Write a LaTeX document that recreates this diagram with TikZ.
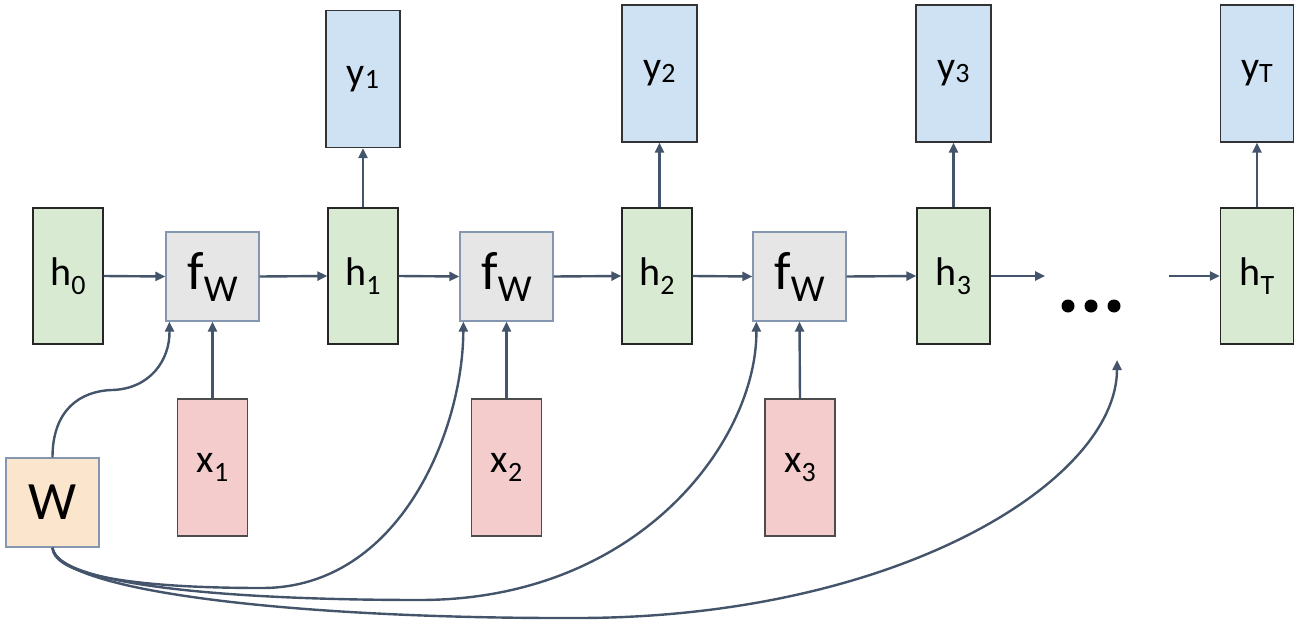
\documentclass[tikz,border=0pt]{standalone}
\usepackage{fontspec}
\setmainfont{Carlito}
\usetikzlibrary{arrows.meta}
\definecolor{arr}{HTML}{44546A}
\definecolor{hgreen}{HTML}{D9EAD3}
\definecolor{fgray}{HTML}{E6E6E6}
\definecolor{fborder}{HTML}{8496B0}
\definecolor{yblue}{HTML}{CFE2F3}
\definecolor{xred}{HTML}{F4CCCC}
\definecolor{worange}{HTML}{FCE5CD}
\newcommand{\hsub}[1]{{\fontsize{40}{40}\selectfont h}\raisebox{-9pt}{\fontsize{28}{28}\selectfont #1}}
\newcommand{\ysub}[1]{{\fontsize{40}{40}\selectfont y}\raisebox{-3pt}{\fontsize{28}{28}\selectfont #1}}
\newcommand{\xsub}[1]{{\fontsize{40}{40}\selectfont x}\raisebox{-9pt}{\fontsize{28}{28}\selectfont #1}}
\newcommand{\fsub}{{\fontsize{54}{54}\selectfont f}\raisebox{-12pt}{\fontsize{38}{38}\selectfont W}}
\begin{document}
\begin{tikzpicture}[x=1pt,y=-1pt,
  box/.style={draw, line width=1.3pt, inner sep=0pt, rectangle},
  hbox/.style={box, draw=black!85, fill=hgreen, minimum width=70pt, minimum height=136pt},
  ybox/.style={box, draw=black!80, fill=yblue, minimum width=75pt, minimum height=137pt},
  xbox/.style={box, draw=black!70, fill=xred, minimum width=70pt, minimum height=137pt},
  fbox/.style={box, draw=fborder, fill=fgray, minimum width=93pt, minimum height=89pt},
  wbox/.style={box, draw=fborder, fill=worange, minimum width=93pt, minimum height=89pt},
  conn/.style={draw=arr, line width=2.4pt, -{Triangle[length=10pt,width=9pt]}},
]
\useasboundingbox (0,0) rectangle (1301,626);
% nodes
\node[hbox] (h0) at (68,276) {\hsub{0}};
\node[fbox] (f1) at (212.5,276.5) {\fsub};
\node[hbox] (h1) at (363,276) {\hsub{1}};
\node[ybox, minimum width=74pt] (y1) at (363,79) {\ysub{1}};
\node[fbox] (f2) at (506.5,276.5) {\fsub};
\node[hbox] (h2) at (657,276) {\hsub{2}};
\node[ybox] (y2) at (659.5,73.5) {\ysub{2}};
\node[fbox] (f3) at (799.5,276.5) {\fsub};
\node[hbox, minimum width=73pt] (h3) at (953.5,276) {\hsub{3}};
\node[ybox] (y3) at (953.5,73.5) {\ysub{3}};
\node[hbox, minimum width=73pt] (hT) at (1257,276) {\hsub{T}};
\node[ybox, minimum width=73pt] (yT) at (1257,73.5) {\ysub{T}};
\node[xbox] (x1) at (212.5,467.5) {\xsub{1}};
\node[xbox] (x2) at (506.5,467.5) {\xsub{2}};
\node[xbox] (x3) at (800,467.5) {\xsub{3}};
\node[wbox] (W) at (52.5,502.5) {\fontsize{54}{54}\selectfont W};
% dots
\node[inner sep=0pt, minimum size=1pt] (dots) at (1091,306) {};
\fill (1068,306) circle (6.5pt) (1091,306) circle (6.5pt) (1114,306) circle (6.5pt);
\coordinate (hend) at (1045,276);
\coordinate (hstart) at (1169,276);
\coordinate (dtip) at (1117,360);
% horizontal chain
\draw[conn] (h0.east) -- (f1.west);
\draw[conn] (f1.east) -- (h1.west);
\draw[conn] (h1.east) -- (f2.west);
\draw[conn] (f2.east) -- (h2.west);
\draw[conn] (h2.east) -- (f3.west);
\draw[conn] (f3.east) -- (h3.west);
\draw[conn] (h3.east) -- (hend);
\draw[conn] (hstart) -- (hT.west);
% outputs
\draw[conn] (h1.north) -- (y1.south);
\draw[conn] (h2.north -| y2.south) -- (y2.south);
\draw[conn] (h3.north) -- (y3.south);
\draw[conn] (hT.north) -- (yT.south);
% inputs
\draw[conn] (x1.north) -- (f1.south);
\draw[conn] (x2.north) -- (f2.south);
\draw[conn] (x3.north) -- (f3.south);
% W connections
\draw[conn] (W.north) .. controls (52.5,410) and (80,391) .. (112,390)
  .. controls (150,389) and (170,360) .. ([xshift=4pt]f1.south west);
\draw[conn] (W.south) .. controls (54,578) and (150,588) .. (262,588)
  .. controls (400,588) and (463,430) .. ([xshift=4pt]f2.south west);
\draw[conn] (W.south) .. controls (56,584) and (220,600) .. (420,600)
  .. controls (640,600) and (757,440) .. ([xshift=4pt]f3.south west);
\draw[conn] (W.south) .. controls (58,592) and (300,619) .. (580,618)
  .. controls (900,617) and (1117,480) .. (dtip);
\end{tikzpicture}
\end{document}
